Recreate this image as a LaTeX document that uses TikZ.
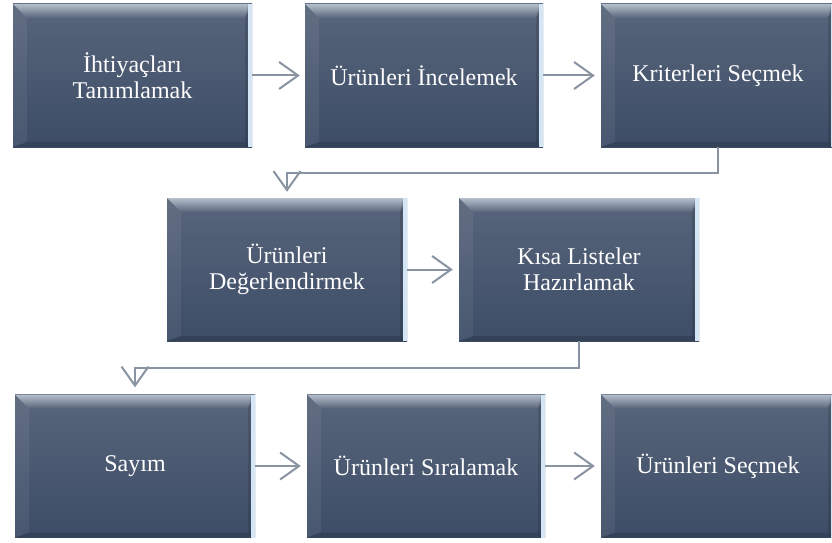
\documentclass[tikz,border=0pt]{standalone}
\usepackage{fontspec}
\setmainfont{Liberation Serif}
\usetikzlibrary{arrows.meta,calc}

\definecolor{boxtop}{HTML}{58657B}
\definecolor{boxbot}{HTML}{3D4D67}
\definecolor{bevelhi}{HTML}{B4BECA}
\definecolor{edgeblue}{HTML}{D4E6F5}
\definecolor{linkgray}{HTML}{8A93A1}

\tikzset{
  stepbox/.style={
    minimum width=#1, minimum height=143pt, inner sep=0pt,
    align=center, text=white, font=\fontsize{24}{26}\selectfont,
    top color=boxtop, bottom color=boxbot,
    path picture={
      \path (path picture bounding box.north west) coordinate (pnw)
            (path picture bounding box.south east) coordinate (pse);
      \path (pnw -| pse) coordinate (pne) (pnw |- pse) coordinate (psw);
      % upper bevel
      \shade[top color=bevelhi, bottom color=boxtop]
        (pnw) -- (pne) -- ($(pne)+(-7,-14)$) -- ($(pnw)+(14,-14)$) -- cycle;
      % left bevel
      \fill[white, opacity=0.06]
        (pnw) -- ($(pnw)+(14,-14)$) -- ($(psw)+(14,5)$) -- (psw) -- cycle;
      % lower bevel
      \fill[black, opacity=0.14]
        (psw) -- ($(psw)+(14,5)$) -- ($(pse)+(-7,5)$) -- (pse) -- cycle;
      % right bevel and its light rim
      \fill[black, opacity=0.12]
        ($(pne)+(-7,-14)$) -- ($(pne)+(-4,0)$) -- ($(pse)+(-4,0)$) -- ($(pse)+(-7,5)$) -- cycle;
      \fill[edgeblue] ($(pne)+(-4,0)$) rectangle (pse);
    }
  },
  flow/.style={
    draw=linkgray, line width=2pt,
    -{Straight Barb[length=19pt,width=27pt]}
  }
}

\begin{document}
\begin{tikzpicture}[x=1pt,y=1pt]
  \useasboundingbox (0,0) rectangle (832,542);
  \fill[white] (0,0) rectangle (832,542);

  % first row
  \node[stepbox=239pt] (n1) at (132.5,466.5) {İhtiyaçları\\Tanımlamak};
  \node[stepbox=238pt] (n2) at (424,466.5) {Ürünleri İncelemek};
  \node[stepbox=234pt] (n3) at (718,466.5) {Kriterleri Seçmek};

  % second row
  \node[stepbox=240pt] (n4) at (287,272.5) {Ürünleri\\Değerlendirmek};
  \node[stepbox=240pt] (n5) at (579,272.5) {Kısa Listeler\\Hazırlamak};

  % third row
  \node[stepbox=240pt] (n6) at (135,76) {Sayım};
  \node[stepbox=238pt] (n7) at (426,76) {Ürünleri Sıralamak};
  \node[stepbox=234pt] (n8) at (718,76) {Ürünleri Seçmek};

  % connectors within rows
  \draw[flow] (n1.east) -- ([xshift=-5pt]n2.west);
  \draw[flow] (n2.east) -- ([xshift=-6pt]n3.west);
  \draw[flow] (n4.east) -- ([xshift=-6pt]n5.west);
  \draw[flow] (n6.east) -- ([xshift=-6pt]n7.west);
  \draw[flow] (n7.east) -- ([xshift=-6pt]n8.west);

  % connectors between rows
  \draw[flow] (n3.south) -- ++(0,-26) -| ([yshift=6pt]n4.north);
  \draw[flow] (n5.south) -- ++(0,-27) -| ([yshift=7pt]n6.north);
\end{tikzpicture}
\end{document}
